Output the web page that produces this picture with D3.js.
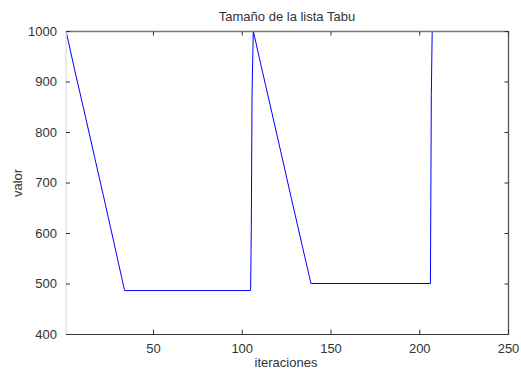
<!DOCTYPE html>
<html>
<head>
<meta charset="utf-8">
<script src="https://cdn.jsdelivr.net/npm/d3@7"></script>
<style>
  body { margin: 0; background: #fff; }
  svg { display: block; font-family: "Liberation Sans", Arial, sans-serif; }
</style>
</head>
<body>
<svg width="521" height="373"></svg>
<script>
// valores
const iteraciones = [1, 6, 11, 17, 22, 28, 34, 105, 105.4, 105.8, 106.5, 111, 117, 122, 128, 134, 139, 206.3, 206.8, 207.3];
const valor = [1000, 921, 845, 752, 675, 581, 486, 486, 613, 871, 1000, 930, 838, 761, 668, 576, 500, 500, 874, 1000];
const xTicks = [50, 100, 150, 200, 250];
const yTicks = [400, 500, 600, 700, 800, 900, 1000];

const svg = d3.select("svg");
const mLeft = 66, mRight = 508, mTop = 31, mBottom = 334;

const x = d3.scaleLinear().domain([1, 250]).range([mLeft, mRight]);
const y = d3.scaleLinear().domain([400, 1000]).range([mBottom, mTop]);

svg.append("rect").attr("width", 521).attr("height", 373).attr("fill", "#fff");

svg.append("clipPath").attr("id", "clip")
  .append("rect").attr("x", mLeft).attr("y", mTop - 1).attr("width", mRight - mLeft).attr("height", mBottom - mTop + 1);

const data = iteraciones.map((d, i) => ({ it: d, v: valor[i] }));

svg.append("path")
  .datum(data)
  .attr("clip-path", "url(#clip)")
  .attr("fill", "none")
  .attr("stroke", "#0000ff")
  .attr("stroke-width", 1)
  .attr("d", d3.line().x(d => x(d.it)).y(d => y(d.v)));

// caja
svg.append("line").attr("x1", mLeft).attr("x2", mLeft).attr("y1", mTop).attr("y2", mBottom)
  .attr("stroke", "#e2e2e2").attr("stroke-width", 1.5);
svg.append("line").attr("x1", mLeft).attr("x2", mRight).attr("y1", mTop + 0.5).attr("y2", mTop + 0.5)
  .attr("stroke", "#7a7a7a").attr("stroke-width", 1.5);
svg.append("line").attr("x1", mLeft).attr("x2", mRight).attr("y1", mBottom + 0.5).attr("y2", mBottom + 0.5)
  .attr("stroke", "#333").attr("stroke-width", 1);
svg.append("line").attr("x1", mRight + 0.5).attr("x2", mRight + 0.5).attr("y1", mTop).attr("y2", mBottom + 1)
  .attr("stroke", "#555").attr("stroke-width", 1.3);

// ejes
const xAxis = svg.append("g").attr("transform", `translate(0,${mBottom + 0.5})`)
  .call(d3.axisBottom(x).tickValues(xTicks).tickSizeInner(-5).tickSizeOuter(0).tickPadding(9).tickFormat(d3.format("d")));
const xTop = svg.append("g").attr("transform", `translate(0,${mTop + 0.5})`)
  .call(d3.axisTop(x).tickValues(xTicks).tickSizeInner(-4).tickSizeOuter(0).tickFormat(""));
const yAxis = svg.append("g").attr("transform", `translate(${mLeft},0)`)
  .call(d3.axisLeft(y).tickValues(yTicks).tickSizeInner(-4).tickSizeOuter(0).tickPadding(9).tickFormat(d3.format("d")));
const yRight = svg.append("g").attr("transform", `translate(${mRight + 0.5},0)`)
  .call(d3.axisRight(y).tickValues(yTicks).tickSizeInner(-4).tickSizeOuter(0).tickFormat(""));

[xAxis, xTop, yAxis, yRight].forEach(g => {
  g.select(".domain").remove();
  g.selectAll(".tick line").attr("stroke", "#333");
  g.selectAll("text").attr("fill", "#333").style("font-size", "13px")
    .style("font-family", "'Liberation Sans', Arial, sans-serif");
});

svg.append("text").attr("x", 287).attr("y", 21).attr("text-anchor", "middle")
  .attr("fill", "#333").style("font-size", "13px").text("Tamaño de la lista Tabu");
svg.append("text").attr("x", 286).attr("y", 367).attr("text-anchor", "middle")
  .attr("fill", "#333").style("font-size", "13px").text("iteraciones");
svg.append("text").attr("transform", "translate(22,183) rotate(-90)").attr("text-anchor", "middle")
  .attr("fill", "#333").style("font-size", "13px").text("valor");
</script>
</body>
</html>
